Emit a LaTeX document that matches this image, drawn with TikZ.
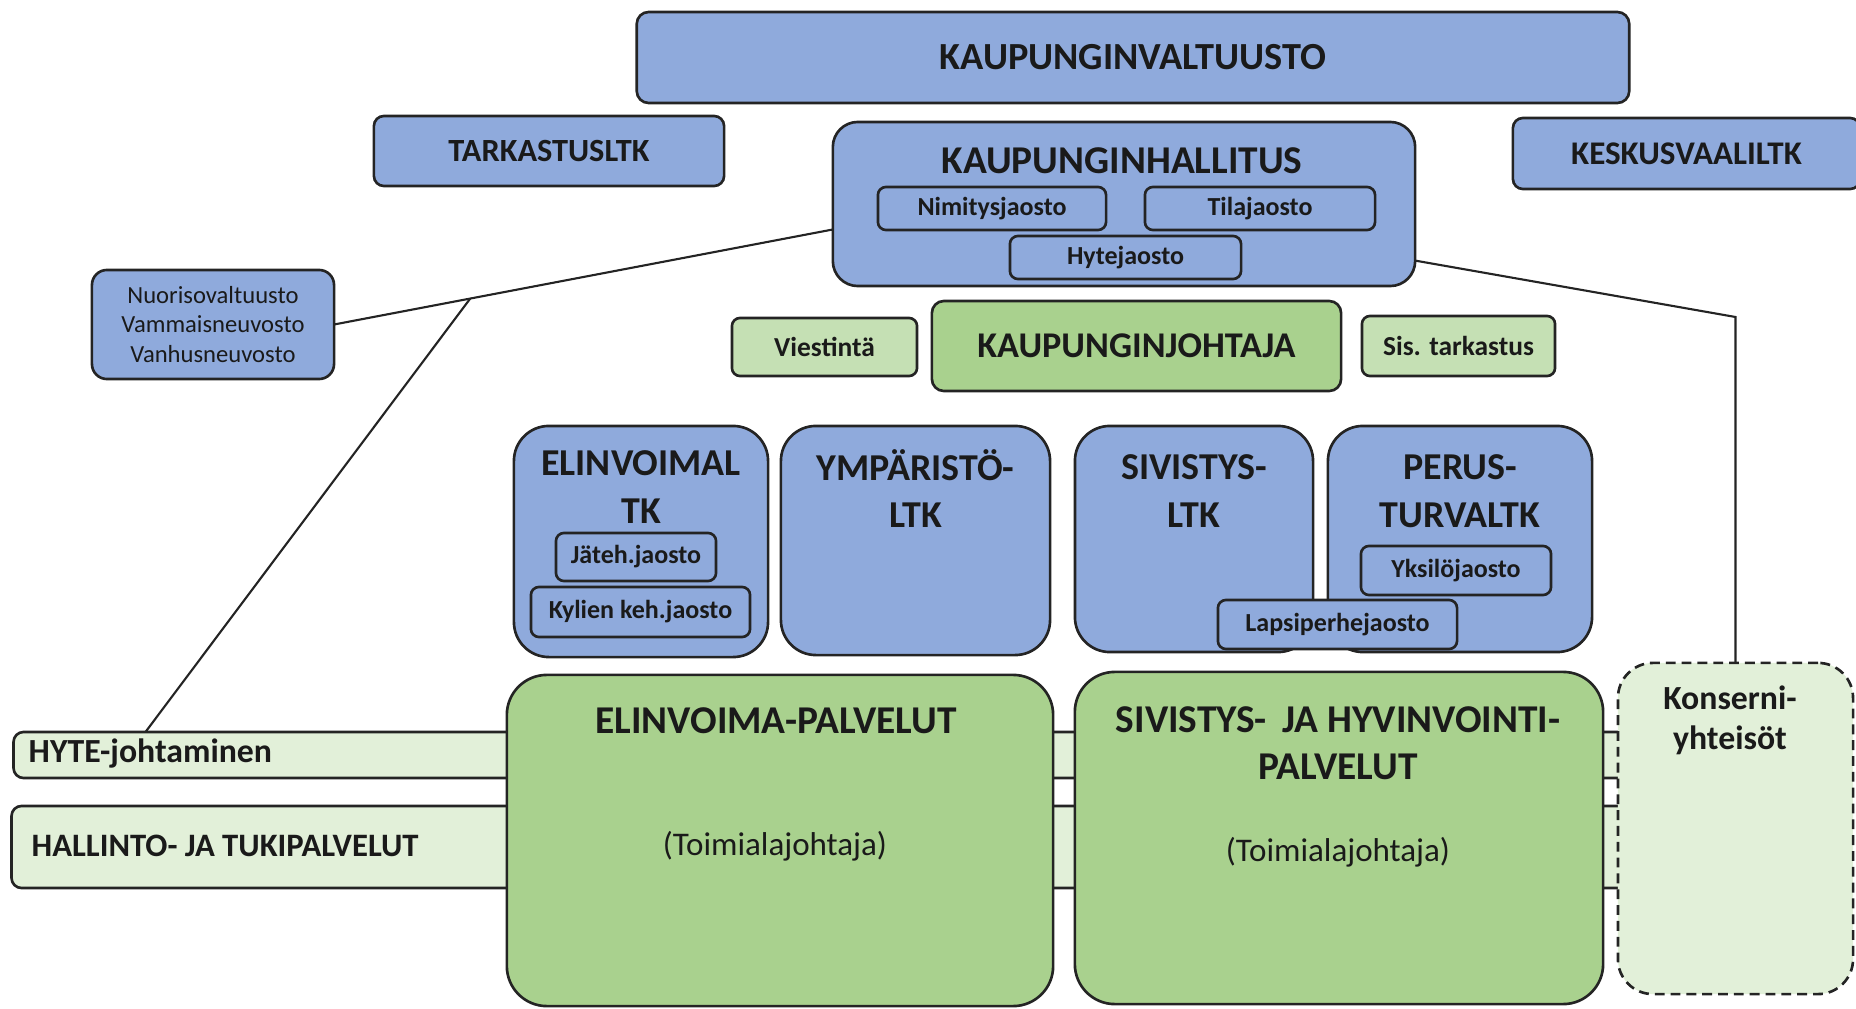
\documentclass[tikz,border=0pt]{standalone}
\usepackage{fontspec}
\setmainfont{Carlito}
\usetikzlibrary{calc}
\definecolor{orgblue}{HTML}{8FAADC}
\definecolor{orggreen}{HTML}{A9D18E}
\definecolor{lightgreen}{HTML}{C5E0B4}
\definecolor{palegreen}{HTML}{E2F0D9}
\definecolor{edge}{HTML}{242424}
\definecolor{ink}{HTML}{1A1A1A}

\begin{document}
\begin{tikzpicture}[x=0.01cm, y=-0.01cm,
    box/.style={draw=edge, line width=0.75pt, inner sep=0pt, outer sep=0pt,
      text=ink, align=center, font=\bfseries},
    council/.style={box, fill=orgblue},
    office/.style={box, fill=orggreen},
    staff/.style={box, fill=lightgreen, rounded corners=0.8mm,
      font=\fontsize{7.8}{9}\selectfont\bfseries},
    band/.style={box, fill=palegreen, rounded corners=1mm},
    section/.style={box, fill=orgblue, rounded corners=0.8mm,
      font=\fontsize{7.4}{9}\selectfont\bfseries},
    title/.style={inner sep=0pt, text=ink, align=center},
    ltkfont/.style={font=\fontsize{10.8}{13.6}\selectfont\bfseries},
    link/.style={draw=edge, line width=0.6pt}]
  \useasboundingbox (0,0) rectangle (1856,1009);

  % toimielimet
  \node[council, rounded corners=1.2mm, minimum width=9.92cm, minimum height=0.91cm,
    font=\fontsize{10.9}{13}\selectfont\bfseries] (valt) at (1133,57.5) {KAUPUNGINVALTUUSTO};
  \node[council, rounded corners=1mm, minimum width=3.5cm, minimum height=0.7cm,
    font=\fontsize{9.2}{11}\selectfont\bfseries] (tark) at (549,151) {TARKASTUSLTK};
  \node[council, rounded corners=1mm, minimum width=3.47cm, minimum height=0.71cm,
    font=\fontsize{9.4}{11}\selectfont\bfseries] (kesk) at (1686.5,153.5) {KESKUSVAALILTK};

  \node[council, rounded corners=2.5mm, minimum width=5.82cm, minimum height=1.64cm] (khall) at (1124,204) {};
  \node[title, font=\fontsize{11.2}{13}\selectfont\bfseries] (khallt) at (1122,161) {KAUPUNGINHALLITUS};
  \node[section, minimum width=2.28cm, minimum height=0.43cm] (nimi) at (992,208.5) {Nimitysjaosto};
  \node[section, minimum width=2.30cm, minimum height=0.43cm] (tila) at (1260,208.5) {Tilajaosto};
  \node[section, minimum width=2.31cm, minimum height=0.43cm] (hytej) at (1125.5,257.5) {Hytejaosto};

  \node[council, rounded corners=1.5mm, minimum width=2.42cm, minimum height=1.09cm,
    font=\fontsize{7}{8.4}\selectfont] (nuor) at (213,324.5) {Nuorisovaltuusto\\Vammaisneuvosto\\Vanhusneuvosto};

  \node[staff, minimum width=1.85cm, minimum height=0.58cm] (viest) at (824.5,347) {Viestintä};
  \node[office, rounded corners=1.2mm, minimum width=4.09cm, minimum height=0.9cm,
    font=\fontsize{10.3}{12}\selectfont\bfseries] (kjoht) at (1136.5,346) {KAUPUNGINJOHTAJA};
  \node[staff, minimum width=1.93cm, minimum height=0.6cm] (sist) at (1458.5,346) {Sis. tarkastus};

  % lautakunnat
  \node[council, rounded corners=3.5mm, minimum width=2.54cm, minimum height=2.31cm] (elltk) at (641,541.5) {};
  \node[title, ltkfont] (elltkt) at (641,487) {ELINVOIMAL\\TK};
  \node[section, minimum width=1.6cm, minimum height=0.48cm] (jate) at (636,557) {Jäteh.jaosto};
  \node[section, minimum width=2.19cm, minimum height=0.5cm] (kyl) at (640.5,612) {Kylien keh.jaosto};

  \node[council, rounded corners=3.5mm, minimum width=2.69cm, minimum height=2.29cm] (ymp) at (915.5,540.5) {};
  \node[title, ltkfont] (ympt) at (915.5,488.5) {YMPÄRISTÖ-\\LTK};

  \node[council, rounded corners=3.5mm, minimum width=2.38cm, minimum height=2.26cm] (sivltk) at (1194,539) {};
  \node[title, ltkfont] (sivltkt) at (1194,491) {SIVISTYS-\\LTK};

  \node[council, rounded corners=3.5mm, minimum width=2.64cm, minimum height=2.26cm] (perus) at (1460,539) {};
  \node[title, ltkfont] (perust) at (1460,491) {PERUS-\\TURVALTK};
  \node[section, minimum width=1.9cm, minimum height=0.49cm] (yks) at (1456,570.5) {Yksilöjaosto};
  \node[section, minimum width=2.39cm, minimum height=0.49cm] (laps) at (1337.5,624.5) {Lapsiperhejaosto};

  % palvelut
  \node[band, minimum width=16.86cm, minimum height=0.46cm] (hyte) at (857,755) {};
  \node[title, anchor=west, font=\fontsize{9.6}{11}\selectfont\bfseries] (hytet) at (28,754) {HYTE-johtaminen};
  \node[band, minimum width=16.88cm, minimum height=0.82cm] (hall) at (856,847) {};
  \node[title, anchor=west, font=\fontsize{9.3}{11}\selectfont\bfseries] (hallt) at (31,846) {HALLINTO- JA TUKIPALVELUT};

  \node[office, rounded corners=4mm, minimum width=5.46cm, minimum height=3.31cm] (elp) at (780,840.5) {};
  \node[title, font=\fontsize{11.2}{13}\selectfont\bfseries] (elpt) at (776,721) {ELINVOIMA-PALVELUT};
  \node[title, font=\fontsize{9.4}{11}\selectfont] (elpj) at (775,846) {(Toimialajohtaja)};

  \node[office, rounded corners=4mm, minimum width=5.28cm, minimum height=3.32cm] (sivp) at (1339,838) {};
  \node[title, font=\fontsize{11.2}{13.4}\selectfont\bfseries] (sivpt) at (1338,743) {SIVISTYS-\, JA HYVINVOINTI-\\PALVELUT};
  \node[title, font=\fontsize{9.4}{11}\selectfont] (sivpj) at (1338,852) {(Toimialajohtaja)};

  \node[box, fill=palegreen, dash pattern=on 2.8pt off 1.7pt, rounded corners=3.5mm,
    minimum width=2.35cm, minimum height=3.31cm] (kons) at (1735.5,828.5) {};
  \node[title, font=\fontsize{9.6}{11.4}\selectfont\bfseries] (konst) at (1730,720) {Konserni-\\yhteisöt};

  % yhteydet
  \draw[link] (khall.185.3) -- (nuor.east);
  \coordinate (fork) at ($(khall.185.3)!0.727!(nuor.east)$);
  \draw[link] (fork) -- ($(hyte.north west)+(132,0)$);
  \coordinate (bend) at (1737,317);
  \draw[link] (khall.349.5) -- (kons.north |- bend) -- (kons.north);
\end{tikzpicture}
\end{document}
